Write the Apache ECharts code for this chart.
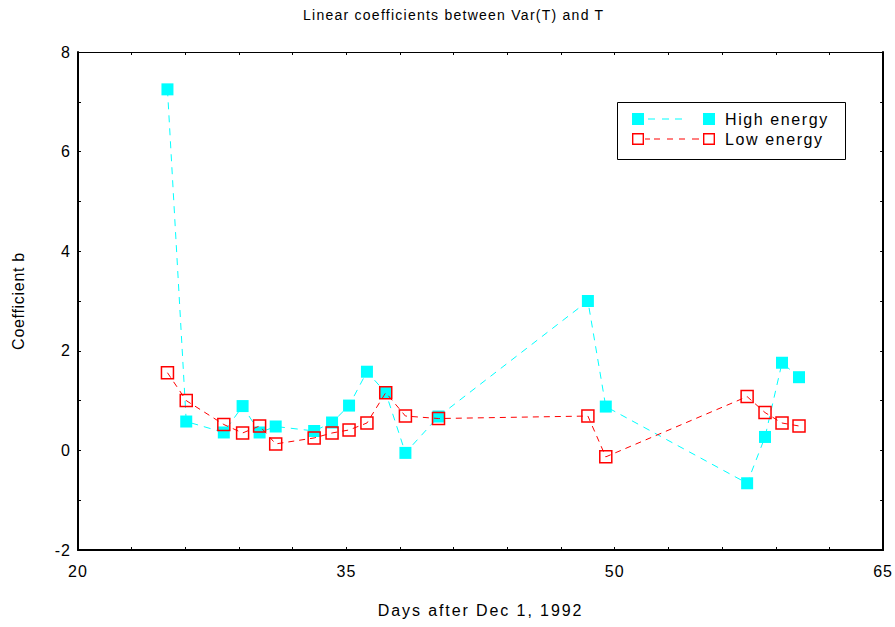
<!DOCTYPE html>
<html>
<head>
<meta charset="utf-8">
<script src="https://cdn.jsdelivr.net/npm/echarts@6/dist/echarts.min.js"></script>
<style>
  html, body { margin: 0; padding: 0; background: #fff; }
  #chart { width: 895px; height: 627px; }
</style>
</head>
<body>
<div id="chart"></div>
<script>
// Observation days (days after Dec 1, 1992)
const days = [25.0, 26.05, 28.15, 29.2, 30.15, 31.05, 33.2, 34.2, 35.15, 36.15, 37.2, 38.3, 40.15, 48.5, 49.5, 57.4, 58.4, 59.35, 60.3];
// Linear coefficient b of Var(T) against T
const highEnergy = [7.25, 0.58, 0.36, 0.89, 0.36, 0.48, 0.39, 0.56, 0.90, 1.58, 1.16, -0.05, 0.68, 3.00, 0.88, -0.66, 0.27, 1.76, 1.47];
const lowEnergy = [1.56, 1.00, 0.52, 0.35, 0.49, 0.13, 0.25, 0.35, 0.41, 0.55, 1.16, 0.69, 0.64, 0.69, -0.13, 1.08, 0.76, 0.55, 0.49];

// Axis ticks and labels
const dayTicks = [20, 23, 26, 29, 32, 35, 38, 41, 44, 47, 50, 53, 56, 59, 62, 65];
const dayLabels = [20, 35, 50, 65];
const coefTicks = [-2, -1, 0, 1, 2, 3, 4, 5, 6, 7, 8];
const coefLabels = [-2, 0, 2, 4, 6, 8];

const FONT = 'Liberation Sans, Arial, sans-serif';
const CYAN = '#00ffff';
const RED = '#ff0000';

// Legend glyphs: marker, dashes, marker
const highIcon = 'path://M0 0H12V12H0Z M16 5.5H23V6.5H16Z M30 5.5H37V6.5H30Z M43 5.5H50V6.5H43Z M71 0H83V12H71Z';
const lowIcon = 'path://M0 0H12V12H0Z M1.4 1.4V10.6H10.6V1.4Z M13 5.5H18V6.5H13Z M22 5.5H28V6.5H22Z M35 5.5H41V6.5H35Z M47 5.5H53V6.5H47Z M60 5.5H67V6.5H60Z M71 0H83V12H71Z M72.4 1.4V10.6H81.6V1.4Z';

const pairs = (xs, ys) => xs.map((x, i) => [x, ys[i]]);

const chart = echarts.init(document.getElementById('chart'), null, { renderer: 'svg' });

const tickStyle = { color: '#000', width: 1 };

chart.setOption({
  animation: false,
  backgroundColor: '#fff',
  title: {
    text: 'Linear coefficients between Var(T) and T',
    left: 303,
    top: 8,
    padding: 0,
    textStyle: { fontFamily: FONT, fontSize: 14, fontWeight: 'normal', color: '#000' }
  },
  grid: { left: 78, right: 11, top: 52, bottom: 77, containLabel: false },
  legend: {
    orient: 'vertical',
    left: 632,
    top: 111,
    padding: 0,
    itemWidth: 83,
    itemHeight: 12,
    itemGap: 4,
    textStyle: { fontFamily: FONT, fontSize: 16, color: '#000', padding: [0, 0, 0, 5] },
    data: [
      { name: 'High energy', icon: highIcon, itemStyle: { color: CYAN, borderWidth: 0 } },
      { name: 'Low energy', icon: lowIcon, itemStyle: { color: RED, borderWidth: 0 } }
    ]
  },
  graphic: [{
    type: 'rect',
    left: 615,
    top: 100,
    z: -1,
    shape: { width: 228, height: 57 },
    style: { fill: 'none', stroke: '#000', lineWidth: 1 }
  }],
  xAxis: [{
    type: 'value',
    position: 'bottom',
    min: 20,
    max: 65,
    name: 'Days after Dec 1, 1992',
    nameLocation: 'middle',
    nameGap: 52,
    nameTextStyle: { fontFamily: FONT, fontSize: 16, color: '#000' },
    axisLine: { onZero: false, lineStyle: { color: '#000', width: 2 } },
    axisTick: { inside: true, length: 3, customValues: dayTicks, lineStyle: tickStyle },
    axisLabel: { customValues: dayLabels, fontFamily: FONT, fontSize: 16, color: '#000', margin: 13 },
    splitLine: { show: false }
  }, {
    type: 'value',
    position: 'top',
    min: 20,
    max: 65,
    axisLine: { onZero: false, lineStyle: { color: '#000', width: 1 } },
    axisTick: { inside: true, length: 3, customValues: dayTicks, lineStyle: tickStyle },
    axisLabel: { show: false },
    splitLine: { show: false }
  }],
  yAxis: [{
    type: 'value',
    position: 'left',
    min: -2,
    max: 8,
    name: 'Coefficient b',
    nameLocation: 'middle',
    nameRotate: 90,
    nameGap: 52,
    nameTextStyle: { fontFamily: FONT, fontSize: 16, color: '#000' },
    axisLine: { onZero: false, lineStyle: { color: '#000', width: 2 } },
    axisTick: { inside: true, length: 3, customValues: coefTicks, lineStyle: tickStyle },
    axisLabel: { customValues: coefLabels, fontFamily: FONT, fontSize: 16, color: '#000', margin: 7 },
    splitLine: { show: false }
  }, {
    type: 'value',
    position: 'right',
    min: -2,
    max: 8,
    axisLine: { onZero: false, lineStyle: { color: '#000', width: 2 } },
    axisTick: { inside: true, length: 3, customValues: coefTicks, lineStyle: tickStyle },
    axisLabel: { show: false },
    splitLine: { show: false }
  }],
  series: [{
    name: 'High energy',
    type: 'line',
    data: pairs(days, highEnergy),
    symbol: 'rect',
    symbolSize: 12,
    itemStyle: { color: CYAN, borderWidth: 0 },
    lineStyle: { color: CYAN, width: 1, type: [7, 6] },
    emphasis: { disabled: true },
    z: 2
  }, {
    name: 'Low energy',
    type: 'line',
    data: pairs(days, lowEnergy),
    symbol: 'rect',
    symbolSize: 12,
    itemStyle: { color: 'rgba(0,0,0,0)', borderColor: RED, borderWidth: 1.5 },
    lineStyle: { color: RED, width: 1, type: [6, 5] },
    emphasis: { disabled: true },
    z: 3
  }]
});

// Wider tracking for the labels, as in the original plotting style
const tracking = {
  'Linear coefficients between Var(T) and T': 1.25,
  'Days after Dec 1, 1992': 1.9,
  'Coefficient b': 0.7,
  'High energy': 1.6,
  'Low energy': 1.6
};
function applyTracking() {
  document.querySelectorAll('#chart svg text').forEach(t => {
    const s = tracking[t.textContent];
    t.style.letterSpacing = (s !== undefined ? s : 1) + 'px';
  });
}
applyTracking();
chart.on('finished', applyTracking);
</script>
</body>
</html>
